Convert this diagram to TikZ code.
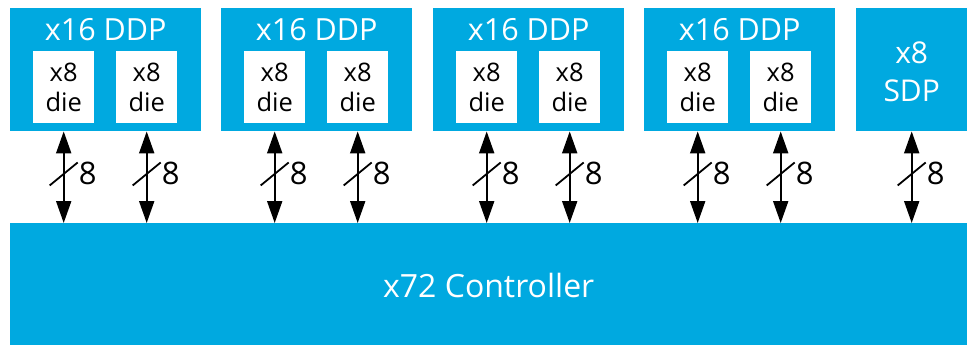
\documentclass[tikz,border=0pt]{standalone}
\usepackage{fontspec}
\setmainfont{Open Sans}
\usetikzlibrary{arrows.meta,calc}
\definecolor{chipblue}{RGB}{0,169,224}
\tikzset{
  blk/.style={fill=chipblue, draw=none, inner sep=0pt, anchor=north west},
  diebox/.style={fill=white, draw=none, inner sep=0pt, anchor=north west,
                 minimum width=61pt, minimum height=72pt},
  titletxt/.style={text=white, font=\fontsize{30.5}{30}\selectfont, anchor=base, inner sep=0pt},
  dietxt/.style={text=black, font=\fontsize{25.5}{30}\selectfont, align=center, inner sep=0pt},
  sdptxt/.style={text=white, font=\fontsize{30}{38}\selectfont, align=center, inner sep=0pt},
  ctltxt/.style={text=white, font=\fontsize{32}{32}\selectfont, inner sep=0pt},
  busarrow/.style={line width=2pt, {Triangle[length=22pt,width=15pt]}-{Triangle[length=22pt,width=15pt]}},
  busslash/.style={line width=1.8pt},
  widthtxt/.style={text=black, font=\fontsize{31}{31}\selectfont, anchor=base west, inner sep=0pt},
}
\begin{document}
\begin{tikzpicture}[x=1pt,y=-1pt]
\useasboundingbox (0,0) rectangle (967,345);

% controller
\node[blk, minimum width=957pt, minimum height=122pt] (ctl) at (10,223) {};
\node[ctltxt] at ($(ctl.center)+(0,1)$) {x72 Controller};

% four x16 DDP packages, each with two x8 dies
\foreach \i/\L in {1/10,2/221,3/433,4/644}{
  \node[blk, minimum width=191pt, minimum height=123pt] (m\i) at (\L,8) {};
  \node[titletxt] at ($(m\i.north)+(0,33)$) {x16 DDP};
  \node[diebox] (d\i a) at ($(m\i.north west)+(23,43)$) {};
  \node[diebox] (d\i b) at ($(m\i.north west)+(106,43)$) {};
  \node[dietxt] at (d\i a.center) {x8\\die};
  \node[dietxt] at (d\i b.center) {x8\\die};
}

% x8 SDP package
\node[blk, minimum width=111pt, minimum height=123pt] (sdp) at (856,8) {};
\node[sdptxt] at ($(sdp.center)+(0,2)$) {x8\\SDP};

% 8-bit buses between packages and controller
\foreach \d/\m in {d1a/m1,d1b/m1,d2a/m2,d2b/m2,d3a/m3,d3b/m3,d4a/m4,d4b/m4,sdp/sdp}{
  \draw[busarrow] (\d.center |- \m.south) -- (\d.center |- ctl.north);
  \coordinate (c\d) at ($(\d.center |- \m.south)!0.47!(\d.center |- ctl.north)$);
  \draw[busslash] ($(c\d)+(-14,11)$) -- ($(c\d)+(14,-12)$);
  \node[widthtxt] at ($(c\d)+(15,10.5)$) {8};
}
\end{tikzpicture}
\end{document}
